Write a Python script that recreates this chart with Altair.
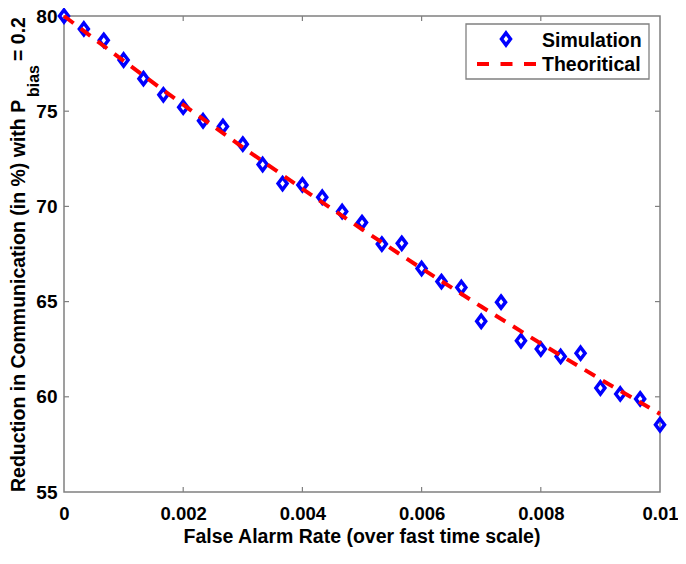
import altair as alt
import pandas as pd

# ---- data ----
sim_x = [0.0, 0.000333, 0.000667, 0.001, 0.001333, 0.001667, 0.002, 0.002333,
         0.002667, 0.003, 0.003333, 0.003667, 0.004, 0.004333, 0.004667, 0.005,
         0.005333, 0.005667, 0.006, 0.006333, 0.006667, 0.007, 0.007333, 0.007667,
         0.008, 0.008333, 0.008667, 0.009, 0.009333, 0.009667, 0.01]
sim_y = [80.0, 79.32, 78.72, 77.69, 76.71, 75.86, 75.21, 74.50,
         74.20, 73.27, 72.20, 71.20, 71.13, 70.48, 69.73, 69.15,
         68.02, 68.06, 66.74, 66.05, 65.74, 63.97, 64.97, 62.94,
         62.51, 62.12, 62.29, 60.46, 60.15, 59.89, 58.53]
theo_x = [0.0, 0.001, 0.002, 0.003, 0.004, 0.005, 0.006, 0.007, 0.008, 0.009, 0.01]
theo_y = [80.0, 77.64, 75.34, 73.10, 70.92, 68.80, 66.74, 64.74, 62.80, 60.92, 59.10]
x_ticks = [0, 0.002, 0.004, 0.006, 0.008, 0.01]
y_ticks = [55, 60, 65, 70, 75, 80]

x_title = "False Alarm Rate (over fast time scale)"
y_title_main = "Reduction in Communication (in %) with P"
y_title_sub = "bias"
y_title_tail = "= 0.2"
legend_labels = ["Simulation", "Theoritical"]

# ---- style ----
W, H = 596, 476
FONT = "Liberation Sans"
FRAME = "#808080"
BLUE = "#0000ff"
RED = "#ff0000"
DIAMOND = "M0,-1L0.75,0L0,1L-0.75,0Z"

xscale = alt.Scale(domain=[0, 0.01], nice=False, zero=False)
yscale = alt.Scale(domain=[55, 80], nice=False, zero=False)

x_axis = alt.Axis(values=x_ticks, format="~g", title=None, ticks=False, tickSize=0,
                  domain=False, grid=False, labelFlush=False, labelFont=FONT,
                  labelFontSize=18.5, labelFontWeight="bold", labelColor="black",
                  labelPadding=12.5)
y_axis = alt.Axis(values=y_ticks, title=None, ticks=False, tickSize=0,
                  domain=False, grid=False, labelFlush=False, labelFont=FONT,
                  labelFontSize=19, labelFontWeight="bold", labelColor="black",
                  labelPadding=7)

X = alt.X("x:Q", scale=xscale, axis=x_axis)
Y = alt.Y("y:Q", scale=yscale, axis=y_axis)

sim = pd.DataFrame({"x": sim_x, "y": sim_y})
theo = pd.DataFrame({"x": theo_x, "y": theo_y})
xt = pd.DataFrame({"x": x_ticks[1:-1]})
yt = pd.DataFrame({"y": y_ticks[1:-1]})

points = alt.Chart(sim).mark_point(
    shape=DIAMOND, size=144, filled=False, stroke=BLUE, strokeWidth=3.5, opacity=1
).encode(x=X, y=Y)

line = alt.Chart(theo).mark_line(
    color=RED, strokeWidth=4, strokeDash=[12, 9]
).encode(x=X, y=Y)

tick_style = dict(color=FRAME, strokeWidth=1.2)
t_bottom = alt.Chart(xt).mark_rule(**tick_style).encode(x=X, y=alt.value(H), y2=alt.value(H - 5))
t_top = alt.Chart(xt).mark_rule(**tick_style).encode(x=X, y=alt.value(0), y2=alt.value(5))
t_left = alt.Chart(yt).mark_rule(**tick_style).encode(y=Y, x=alt.value(0), x2=alt.value(5))
t_right = alt.Chart(yt).mark_rule(**tick_style).encode(y=Y, x=alt.value(W), x2=alt.value(W - 5))


def text_mark(s, x, y, size, angle=0, align="left"):
    return alt.Chart(pd.DataFrame({"t": [s]})).mark_text(
        font=FONT, fontSize=size, fontWeight="bold", color="black",
        angle=angle, align=align, baseline="alphabetic"
    ).encode(text="t:N", x=alt.value(x), y=alt.value(y))


xt_title = text_mark(x_title, W / 2, 527, 19.5, align="center")
yt_main = text_mark(y_title_main, -39, H, 19.5, angle=270)
yt_sub = text_mark(y_title_sub, -25, 81, 16, angle=270)
yt_tail = text_mark(y_title_tail, -39, 45, 19.5, angle=270)

# ---- legend ----
leg_box = alt.Chart(pd.DataFrame({"a": [0]})).mark_rect(
    fill="white", stroke=FRAME, strokeWidth=1.3
).encode(x=alt.value(402), x2=alt.value(585), y=alt.value(8), y2=alt.value(63))
leg_pt = alt.Chart(pd.DataFrame({"a": [0]})).mark_point(
    shape=DIAMOND, size=144, filled=False, stroke=BLUE, strokeWidth=3.5, opacity=1
).encode(x=alt.value(442), y=alt.value(23))
leg_line = alt.Chart(pd.DataFrame({"a": [0]})).mark_rule(
    color=RED, strokeWidth=4, strokeDash=[12, 11.5]
).encode(x=alt.value(413), x2=alt.value(472), y=alt.value(48))
leg_t1 = text_mark(legend_labels[0], 478, 30.5, 19.5)
leg_t2 = text_mark(legend_labels[1], 478, 54.5, 19.5)

chart = alt.layer(
    t_bottom, t_top, t_left, t_right, points, line,
    xt_title, yt_main, yt_sub, yt_tail,
    leg_box, leg_pt, leg_line, leg_t1, leg_t2
).properties(
    width=W, height=H,
    autosize=alt.AutoSizeParams(type="none"),
    padding={"left": 56, "top": 8, "right": 18, "bottom": 56},
    background="white",
).configure_view(stroke=FRAME, strokeWidth=1.5)

chart.save("out.html", embed_options={"renderer": "svg", "actions": False})
